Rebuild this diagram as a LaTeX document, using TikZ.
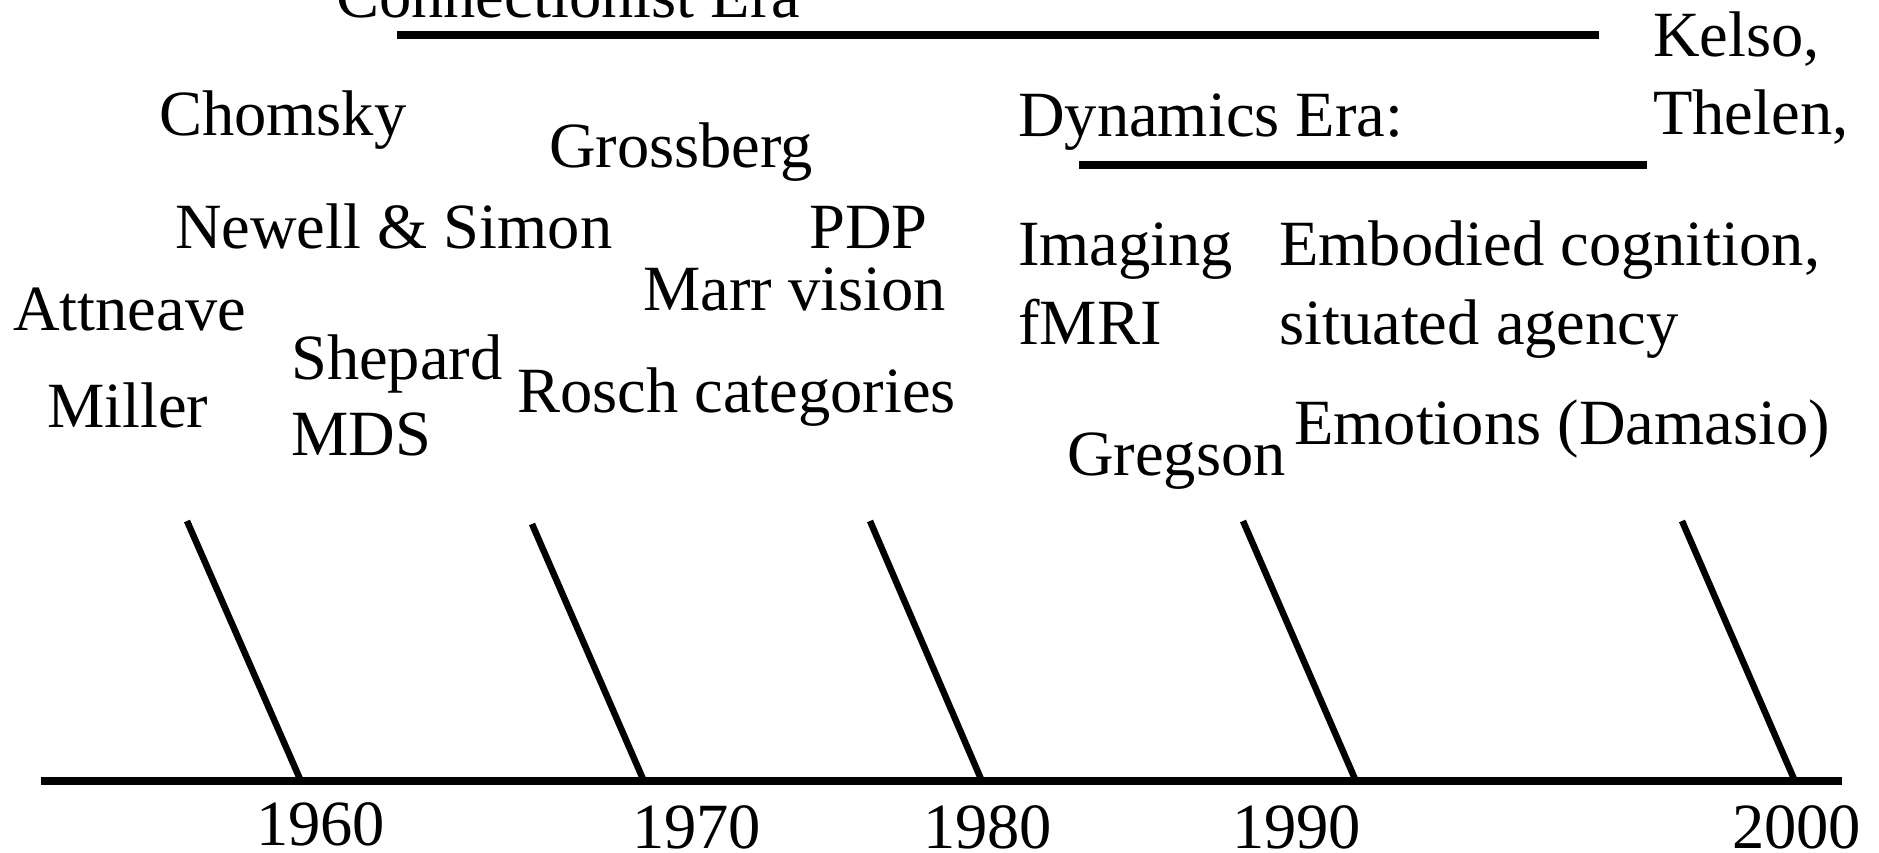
\documentclass[tikz,border=0pt]{standalone}
\usepackage{fontspec}
\setmainfont{Liberation Serif}
\begin{document}
\begin{tikzpicture}[x=1pt,y=-1pt,
  lbl/.style={anchor=base west,inner sep=0pt,font=\fontsize{64.5}{77}\selectfont},
  eraline/.style={line width=8pt},
  axisline/.style={line width=8pt},
  tickline/.style={line width=6.5pt}]
\useasboundingbox (0,0) rectangle (1879,852);
\fill[white] (0,0) rectangle (1879,852);
% era labels and bars
\node[lbl] (conn) at (336,17) {Connectionist Era};
\coordinate (c1) at (397,35);
\coordinate (c2) at (1599,35);
\draw[eraline] (c1) -- (c2);
\node[lbl] (dyn) at (1018,136) {Dynamics Era:};
\coordinate (d1) at (1079,165);
\coordinate (d2) at (1647,165);
\draw[eraline] (d1) -- (d2);
\node[lbl] (kelso) at (1653,56) {Kelso,};
\node[lbl] (thelen) at (1653,134) {Thelen,};
% names
\node[lbl] (chomsky) at (159,135) {Chomsky};
\node[lbl] (gross) at (549,167) {Grossberg};
\node[lbl] (newell) at (175,248) {Newell \& Simon};
\node[lbl] (pdp) at (809,248) {PDP};
\node[lbl] (marr) at (643,310) {Marr vision};
\node[lbl] (att) at (13,330) {Attneave};
\node[lbl] (shep) at (291,379) {Shepard};
\node[lbl] (mds) at (291,455) {MDS};
\node[lbl] (miller) at (47,427) {Miller};
\node[lbl] (rosch) at (517,412) {Rosch categories};
\node[lbl] (imag) at (1018,265) {Imaging};
\node[lbl] (fmri) at (1018,344) {fMRI};
\node[lbl] (emb) at (1279,265) {Embodied cognition,};
\node[lbl] (sit) at (1279,344) {situated agency};
\node[lbl] (emo) at (1294,444) {Emotions (Damasio)};
\node[lbl] (greg) at (1067,475) {Gregson};
% axis
\coordinate (a1) at (41,781);
\coordinate (a2) at (1842,781);
\draw[axisline] (a1) -- (a2);
% ticks
\coordinate (t1a) at (187,521); \coordinate (t1b) at (300,779);
\coordinate (t2a) at (532,524); \coordinate (t2b) at (643,779);
\coordinate (t3a) at (870,521); \coordinate (t3b) at (981,779);
\coordinate (t4a) at (1243,521); \coordinate (t4b) at (1355,779);
\coordinate (t5a) at (1682,521); \coordinate (t5b) at (1794,779);
\draw[tickline] (t1a) -- (t1b);
\draw[tickline] (t2a) -- (t2b);
\draw[tickline] (t3a) -- (t3b);
\draw[tickline] (t4a) -- (t4b);
\draw[tickline] (t5a) -- (t5b);
% years
\node[lbl] (y60) at (256,845) {1960};
\node[lbl] (y70) at (632,848) {1970};
\node[lbl] (y80) at (923,848) {1980};
\node[lbl] (y90) at (1232,848) {1990};
\node[lbl] (y00) at (1732,848) {2000};
\end{tikzpicture}
\end{document}
